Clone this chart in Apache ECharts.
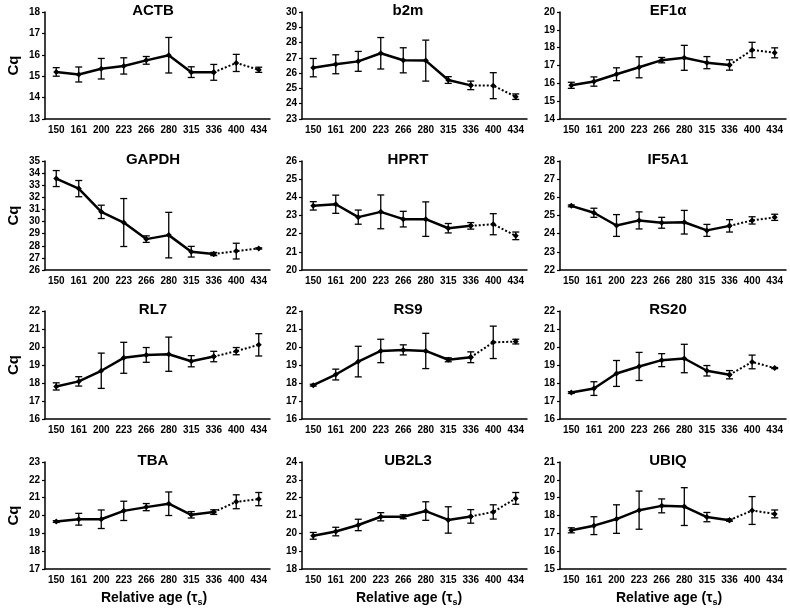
<!DOCTYPE html>
<html><head><meta charset="utf-8">
<script src="https://cdn.jsdelivr.net/npm/echarts@6/dist/echarts.min.js"></script>
<style>html,body{margin:0;padding:0;background:#fff}#c{width:790px;height:612px}</style>
</head><body><div id="c"></div>
<script>
const categories = ['150','161','200','223','266','280','315','336','400','434'];
const genes = ['ACTB','b2m','EF1α','GAPDH','HPRT','IF5A1','RL7','RS9','RS20','TBA','UB2L3','UBIQ'];
const yMin = [13,23,14,26,20,22,16,16,16,17,18,15];
const yMax = [18,30,20,35,26,28,22,22,22,23,24,21];

const ACTB_mean  = [15.2,15.08,15.35,15.48,15.74,15.98,15.19,15.18,15.62,15.3];
const ACTB_err   = [0.2,0.35,0.48,0.38,0.18,0.83,0.25,0.37,0.4,0.12];
const b2m_mean   = [26.36,26.58,26.77,27.3,26.84,26.82,25.55,25.2,25.18,24.46];
const b2m_err    = [0.6,0.62,0.65,1.03,0.82,1.34,0.22,0.28,0.85,0.18];
const EF1a_mean  = [15.89,16.1,16.51,16.9,17.3,17.43,17.16,17.03,17.87,17.71];
const EF1a_err   = [0.17,0.26,0.36,0.59,0.15,0.7,0.34,0.29,0.43,0.28];
const GAPDH_mean = [33.55,32.72,30.8,29.92,28.55,28.88,27.51,27.32,27.56,27.78];
const GAPDH_err  = [0.66,0.67,0.55,1.98,0.27,1.88,0.44,0.13,0.65,0.05];
const HPRT_mean  = [23.53,23.62,22.91,23.2,22.8,22.8,22.3,22.43,22.52,21.88];
const HPRT_err   = [0.23,0.5,0.39,0.93,0.43,0.95,0.26,0.18,0.58,0.21];
const IF5A1_mean = [25.53,25.15,24.45,24.73,24.6,24.63,24.18,24.43,24.73,24.9];
const IF5A1_err  = [0.05,0.25,0.6,0.47,0.3,0.65,0.33,0.34,0.2,0.17];
const RL7_mean   = [17.81,18.09,18.68,19.4,19.56,19.6,19.21,19.47,19.77,20.12];
const RL7_err    = [0.2,0.26,0.98,0.86,0.41,0.95,0.31,0.29,0.2,0.62];
const RS9_mean   = [17.88,18.47,19.19,19.78,19.84,19.78,19.29,19.43,20.26,20.3];
const RS9_err    = [0.05,0.3,0.85,0.65,0.28,0.98,0.11,0.3,0.9,0.13];
const RS20_mean  = [17.47,17.69,18.53,18.92,19.27,19.36,18.68,18.46,19.17,18.83];
const RS20_err   = [0.05,0.38,0.72,0.78,0.36,0.79,0.29,0.23,0.38,0.03];
const TBA_mean   = [19.66,19.79,19.79,20.26,20.47,20.66,20.04,20.19,20.77,20.92];
const TBA_err    = [0.05,0.33,0.52,0.54,0.2,0.66,0.18,0.13,0.39,0.37];
const UB2L3_mean = [19.86,20.1,20.47,20.93,20.93,21.25,20.75,20.95,21.2,21.96];
const UB2L3_err  = [0.19,0.24,0.32,0.23,0.11,0.52,0.74,0.38,0.4,0.33];
const UBIQ_mean  = [17.17,17.43,17.8,18.3,18.54,18.5,17.91,17.74,18.28,18.09];
const UBIQ_err   = [0.14,0.5,0.8,1.07,0.39,1.06,0.26,0.06,0.78,0.22];

const means = [ACTB_mean,b2m_mean,EF1a_mean,GAPDH_mean,HPRT_mean,IF5A1_mean,RL7_mean,RS9_mean,RS20_mean,TBA_mean,UB2L3_mean,UBIQ_mean];
const errs  = [ACTB_err,b2m_err,EF1a_err,GAPDH_err,HPRT_err,IF5A1_err,RL7_err,RS9_err,RS20_err,TBA_err,UB2L3_err,UBIQ_err];

const FONT = '"Liberation Sans", Arial, Helvetica, sans-serif';
const colLeft = [45, 302, 560], colWidth = [225, 225, 226];
const rowTop = [12, 161, 311, 462], rowHeight = [107, 109, 108, 107];
const titleX = [153, 408, 668];

const grids = [], xAxes = [], yAxes = [], series = [], graphics = [];
const splitIdx = 7;

for (let i = 0; i < genes.length; i++) {
  const r = Math.floor(i / 3), c = i % 3;
  grids.push({left: colLeft[c], top: rowTop[r], width: colWidth[c], height: rowHeight[r]});
  xAxes.push({
    type: 'category', gridIndex: i, data: categories, boundaryGap: true,
    axisLine: {lineStyle: {color: '#000', width: 1.5}},
    axisTick: {alignWithLabel: true, length: 4, lineStyle: {color: '#000', width: 1.2}},
    axisLabel: {color: '#000', fontWeight: 'bold', fontSize: 10, fontFamily: FONT, margin: 6, interval: 0}
  });
  yAxes.push({
    type: 'value', gridIndex: i, min: yMin[i], max: yMax[i], interval: 1,
    splitLine: {show: false},
    axisLine: {show: true, lineStyle: {color: '#000', width: 1.5}},
    axisTick: {show: true, length: 3, lineStyle: {color: '#000', width: 1.2}},
    axisLabel: {color: '#000', fontWeight: 'bold', fontSize: 10, fontFamily: FONT, margin: 5}
  });
  const m = means[i], e = errs[i];
  series.push({
    type: 'custom', xAxisIndex: i, yAxisIndex: i, silent: true, z: 2,
    data: m.map((v, k) => [k, v - e[k], v + e[k]]),
    encode: {x: 0, y: [1, 2]},
    renderItem: function (params, api) {
      const x = api.value(0);
      const lo = api.coord([x, api.value(1)]);
      const hi = api.coord([x, api.value(2)]);
      const w = 3.5;
      const st = {stroke: '#000', lineWidth: 1.3};
      return {type: 'group', children: [
        {type: 'line', shape: {x1: lo[0], y1: lo[1], x2: hi[0], y2: hi[1]}, style: st},
        {type: 'line', shape: {x1: hi[0] - w, y1: hi[1], x2: hi[0] + w, y2: hi[1]}, style: st},
        {type: 'line', shape: {x1: lo[0] - w, y1: lo[1], x2: lo[0] + w, y2: lo[1]}, style: st}
      ]};
    }
  });
  series.push({
    type: 'line', xAxisIndex: i, yAxisIndex: i, silent: true, z: 3,
    data: m.map((v, k) => k <= splitIdx ? v : '-'),
    lineStyle: {color: '#000', width: 2.5},
    symbol: 'diamond', symbolSize: 6, itemStyle: {color: '#000'}
  });
  series.push({
    type: 'line', xAxisIndex: i, yAxisIndex: i, silent: true, z: 3,
    data: m.map((v, k) => k >= splitIdx ? v : '-'),
    lineStyle: {color: '#000', width: 2, type: [2, 2]},
    symbol: 'diamond', symbolSize: 6, itemStyle: {color: '#000'}
  });
  graphics.push({
    type: 'text', x: titleX[c], y: rowTop[r] - 1, z: 10,
    style: {text: genes[i], align: 'center', verticalAlign: 'middle',
      fontSize: 15, fontWeight: 'bold', fontFamily: FONT, fill: '#000'}
  });
  if (c === 0) {
    graphics.push({
      type: 'text', x: 14, y: rowTop[r] + rowHeight[r] / 2, rotation: Math.PI / 2, z: 10,
      style: {text: 'Cq', align: 'center', verticalAlign: 'middle',
        fontSize: 15, fontWeight: 'bold', fontFamily: FONT, fill: '#000'}
    });
  }
  if (r === 3) {
    graphics.push({
      type: 'text', x: titleX[c] + 1, y: 598, z: 10,
      style: {
        text: '{a|Relative age (τ}{s|s}{a|)}', align: 'center', verticalAlign: 'middle',
        rich: {
          a: {fontSize: 14, fontWeight: 'bold', fontFamily: FONT, fill: '#000', lineHeight: 18},
          s: {fontSize: 9, fontWeight: 'bold', fontFamily: FONT, fill: '#000', verticalAlign: 'bottom'}
        }
      }
    });
  }
}

const chart = echarts.init(document.getElementById('c'), null, {renderer: 'canvas'});
chart.setOption({
  backgroundColor: '#fff',
  animation: false,
  grid: grids, xAxis: xAxes, yAxis: yAxes, series: series, graphic: graphics
});
</script>
</body></html>
